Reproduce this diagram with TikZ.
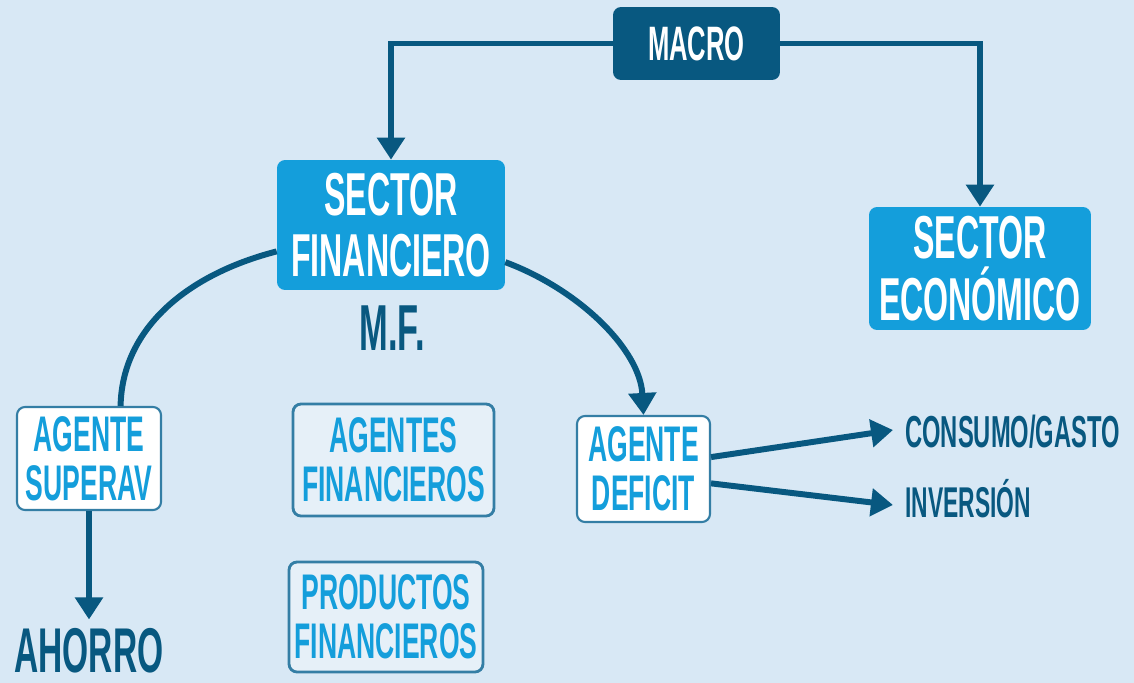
\documentclass[tikz,border=0pt]{standalone}
\usepackage{fontspec}
\setmainfont{Liberation Sans}[FakeStretch=0.53]
\usetikzlibrary{arrows.meta}
\definecolor{bgblue}{RGB}{216,232,245}
\definecolor{darkblue}{RGB}{8,88,128}
\definecolor{lightblue}{RGB}{20,158,219}
\definecolor{edgeblue}{RGB}{52,126,165}
\tikzset{
  hdr/.style={fill=lightblue,text=white,rounded corners=0.16cm,align=center,inner sep=0pt,
    font=\fontsize{34.5}{35}\selectfont\bfseries},
  agent/.style={fill=white,draw=edgeblue,line width=1.2pt,text=lightblue,rounded corners=0.16cm,
    align=center,inner sep=0pt,font=\fontsize{28.5}{28}\selectfont\bfseries},
  group/.style={agent,fill=white!35!bgblue,line width=1.6pt},
  lbl/.style={text=darkblue,inner sep=0pt,font=\fontsize{24.5}{25}\selectfont\bfseries},
  ln/.style={draw=darkblue,line width=3.4pt},
  arr/.style={ln,-{Triangle[length=0.44cm,width=0.54cm]}}
}

\begin{document}
\begin{tikzpicture}[x=0.02cm,y=-0.02cm]
  \fill[bgblue] (0,0) rectangle (1134,683);
  \useasboundingbox (0,0) rectangle (1134,683);

  \node[hdr,fill=darkblue,minimum width=3.34cm,minimum height=1.46cm,
    font=\fontsize{27.5}{28}\selectfont\bfseries] (macro) at (696.5,43.5) {MACRO};
  \node[hdr,minimum width=4.56cm,minimum height=2.6cm] (sfin) at (391,225) {SECTOR\\FINANCIERO};
  \node[hdr,minimum width=4.44cm,minimum height=2.46cm] (seco) at (980,268.5) {SECTOR\\ECONÓMICO};
  \node[lbl,anchor=base,font=\fontsize{37}{36}\selectfont\bfseries] (mf) at (392,350) {M.F.};

  \node[agent,minimum width=2.88cm,minimum height=2.06cm] (superav) at (89,458.5) {AGENTE\\SUPERAV};
  \node[group,minimum width=4.02cm,minimum height=2.24cm] (agfin) at (393.5,460) {AGENTES\\FINANCIEROS};
  \node[group,minimum width=3.88cm,minimum height=2.2cm] (prodfin) at (386,617) {PRODUCTOS\\FINANCIEROS};
  \node[agent,minimum width=2.66cm,minimum height=2.12cm] (deficit) at (643.5,469) {AGENTE\\DEFICIT};

  \node[lbl,anchor=base,font=\fontsize{36}{36}\selectfont\bfseries] (ahorro) at (89,672) {AHORRO};
  \node[lbl,anchor=base west,font=\fontsize{25.5}{25}\selectfont\bfseries] (consumo) at (905,447) {CONSUMO/GASTO};
  \node[lbl,anchor=base west] (inversion) at (905,517) {INVERSIÓN};
  \coordinate (tipc) at (893,430);
  \coordinate (tipi) at (893,505);

  \draw[arr] (macro.west) -| (sfin.north);
  \draw[arr] (macro.east) -| (seco.north);
  \draw[ln] (sfin.193) .. controls (185,275) and (122,330) .. (superav.59);
  \draw[arr] (sfin.-18) .. controls (580,290) and (640,350) .. (deficit.north);
  \draw[arr,shorten >=0.16cm] (superav.south) -- (ahorro.north);
  \draw[arr] (deficit.10) -- (tipc);
  \draw[arr] (deficit.-12) -- (tipi);
\end{tikzpicture}
\end{document}
